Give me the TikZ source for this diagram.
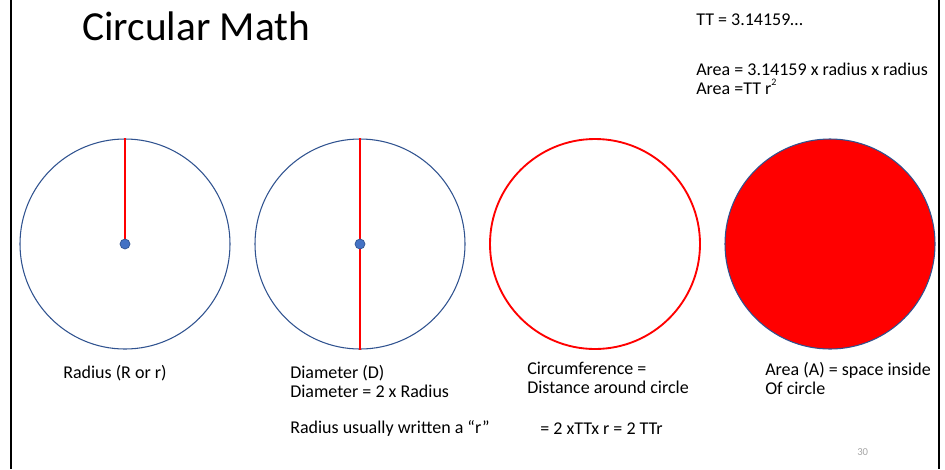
\documentclass[tikz,border=0pt]{standalone}
\usepackage{fontspec}
\setmainfont{Carlito}
\usepackage{xcolor}
\usetikzlibrary{positioning}

\definecolor{ringblue}{HTML}{2F528F}
\definecolor{dotblue}{HTML}{4472C4}
\definecolor{slidered}{HTML}{FF0000}
\definecolor{pagegray}{HTML}{A6A6A6}

\tikzset{
    ring/.style={circle, draw=ringblue, line width=0.8pt, minimum size=157.5pt, inner sep=0pt},
    txt/.style={anchor=base west, inner sep=0pt, font=\fontsize{13.5}{15}\selectfont},
}

\begin{document}
\begin{tikzpicture}[x=0.75pt, y=-0.75pt]

    \useasboundingbox (0,0) rectangle (945,469);

    % =================================================================
    % 1. KHUNG TRANG (hai cạnh dọc)
    % =================================================================
    \draw[line width=1.6pt] (11,0) -- (11,469);
    \draw[line width=1.6pt] (939,0) -- (939,469);

    % =================================================================
    % 2. TIÊU ĐỀ VÀ CÔNG THỨC GÓC PHẢI
    % =================================================================
    \node[anchor=base west, inner sep=0pt, font=\fontsize{31}{35}\selectfont] (title) at (82,40) {Circular Math};

    \node[txt] (piVal) at (696,25) {TT = 3.14159\dots};
    \node[txt] (areaA) at (696,75) {Area = 3.14159 x radius x radius};
    \node[txt] (areaB) at (696,94) {Area =TT r\raisebox{0.45em}{\fontsize{7.5}{8}\selectfont 2}};

    % =================================================================
    % 3. BỐN HÌNH TRÒN
    % =================================================================
    % Bán kính
    \node[ring] (c1) at (125,244) {};
    \draw[slidered, line width=1.1pt] (c1.center) -- (c1.north);
    \fill[dotblue, draw=ringblue, line width=0.5pt] (c1.center) circle (5);

    % Đường kính
    \node[ring] (c2) at (360,244) {};
    \draw[slidered, line width=1.1pt] (c2.north) -- (c2.south);
    \fill[dotblue, draw=ringblue, line width=0.5pt] (c2.center) circle (5);

    % Chu vi
    \node[ring, draw=slidered, line width=1.4pt] (c3) at (595,244) {};

    % Diện tích
    \node[ring, fill=slidered] (c4) at (830,244) {};

    % =================================================================
    % 4. CHÚ THÍCH DƯỚI CÁC HÌNH
    % =================================================================
    \node[txt] (radLbl) at (63,378) {Radius (R or r)};

    \node[txt] (diaA) at (290,378) {Diameter (D)};
    \node[txt] (diaB) at (290,397) {Diameter = 2 x Radius};
    \node[txt] (diaC) at (290,433) {Radius usually written a “r”};

    \node[txt] (cirA) at (527,374) {Circumference =};
    \node[txt] (cirB) at (527,393) {Distance around circle};
    \node[txt] (cirC) at (540,434) {= 2 xTTx r = 2 TTr};

    \node[txt] (arA) at (765,375) {Area (A) = space inside};
    \node[txt] (arB) at (765,394) {Of circle};

    % Số trang
    \node[anchor=base west, inner sep=0pt, text=pagegray, font=\fontsize{8}{9}\selectfont] (pageNo) at (857,455) {30};

\end{tikzpicture}
\end{document}
